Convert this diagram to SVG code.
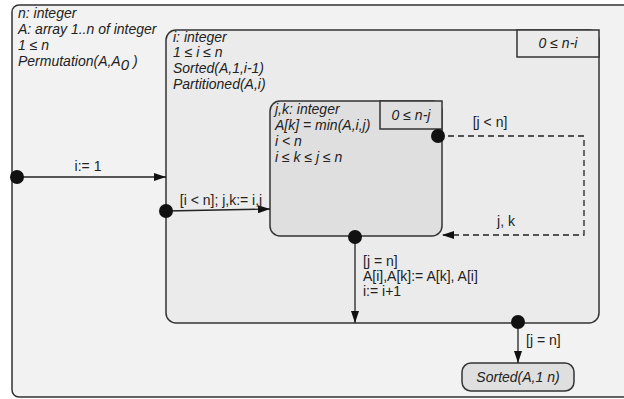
<svg xmlns="http://www.w3.org/2000/svg" width="624" height="399" viewBox="0 0 624 399">
<style>
.st{stroke:#333;stroke-width:1.5}
.t{font-family:"Liberation Sans",Arial,sans-serif;font-size:14px;fill:#222}
.i{font-style:italic}
.ln{stroke:#222;stroke-width:1.3;fill:none}
.dash{stroke:#222;stroke-width:1.3;fill:none;stroke-dasharray:6,4}
.dot{fill:#111}
</style>
<defs>
<marker id="ah" markerWidth="12" markerHeight="8" refX="12" refY="4" orient="auto" markerUnits="userSpaceOnUse">
<path d="M0,0 L12,4 L0,8 Z" fill="#111"/>
</marker>
</defs>
<rect width="624" height="399" fill="#ffffff"/>
<g id="outer">
<rect class="st" x="12" y="5" width="630" height="392" rx="7" fill="#f2f2f2"/>
<text class="t i" x="18" y="18">n: integer</text>
<text class="t i" x="18" y="34">A: array 1..n of integer</text>
<text class="t i" x="18" y="50">1 ≤ n</text>
<text class="t i" x="18" y="66">Permutation(A,A<tspan dy="4" font-size="15">0</tspan><tspan dy="-4"> )</tspan></text>
</g>
<g id="middle">
<rect class="st" x="166" y="30" width="433" height="293" rx="10" fill="#ebebeb"/>
<rect class="st" x="517" y="30" width="82" height="27" fill="#ebebeb"/>
<text class="t i" x="558" y="48" text-anchor="middle">0 ≤ n-i</text>
<text class="t i" x="173" y="42">i: integer</text>
<text class="t i" x="173" y="57">1 ≤ i ≤ n</text>
<text class="t i" x="173" y="73">Sorted(A,1,i-1)</text>
<text class="t i" x="173" y="89">Partitioned(A,i)</text>
</g>
<g id="inner">
<rect class="st" x="270" y="101" width="172" height="135" rx="10" fill="#dfdfdf"/>
<rect class="st" x="380" y="101" width="62" height="28" fill="#dfdfdf"/>
<text class="t i" x="411" y="120" text-anchor="middle">0 ≤ n-j</text>
<text class="t i" x="275" y="114">j,k: integer</text>
<text class="t i" x="275" y="130">A[k] = min(A,i,j)</text>
<text class="t i" x="275" y="146">i &lt; n</text>
<text class="t i" x="275" y="162">i ≤ k ≤ j ≤ n</text>
</g>
<g id="final">
<rect class="st" x="462" y="363" width="112" height="28" rx="9" fill="#dfdfdf"/>
<text class="t i" x="518" y="382" text-anchor="middle">Sorted(A,1 n)</text>
</g>
<g id="connectors">
<line class="ln" x1="17" y1="177" x2="166" y2="177" marker-end="url(#ah)"/>
<circle class="dot" cx="17" cy="177" r="7"/>
<text class="t" x="88" y="171" text-anchor="middle">i:= 1</text>
<line class="ln" x1="166" y1="211" x2="270" y2="209" marker-end="url(#ah)"/>
<circle class="dot" cx="166" cy="211" r="7"/>
<text class="t" x="221" y="205" text-anchor="middle">[i &lt; n]; j,k:= i,j</text>
<polyline class="dash" points="438,136 584,136 584,235 442,235" marker-end="url(#ah)"/>
<circle class="dot" cx="438" cy="136" r="7"/>
<text class="t" x="490" y="127" text-anchor="middle">[j &lt; n]</text>
<text class="t" x="506" y="226" text-anchor="middle">j, k</text>
<line class="ln" x1="355" y1="237" x2="355" y2="323" marker-end="url(#ah)"/>
<circle class="dot" cx="355" cy="237" r="7"/>
<text class="t" x="363" y="266">[j = n]</text>
<text class="t" x="363" y="281">A[i],A[k]:= A[k], A[i]</text>
<text class="t" x="363" y="296">i:= i+1</text>
<line class="ln" x1="518" y1="322" x2="518" y2="363" marker-end="url(#ah)"/>
<circle class="dot" cx="518" cy="322" r="7"/>
<text class="t" x="526" y="345">[j = n]</text>
</g>
</svg>
